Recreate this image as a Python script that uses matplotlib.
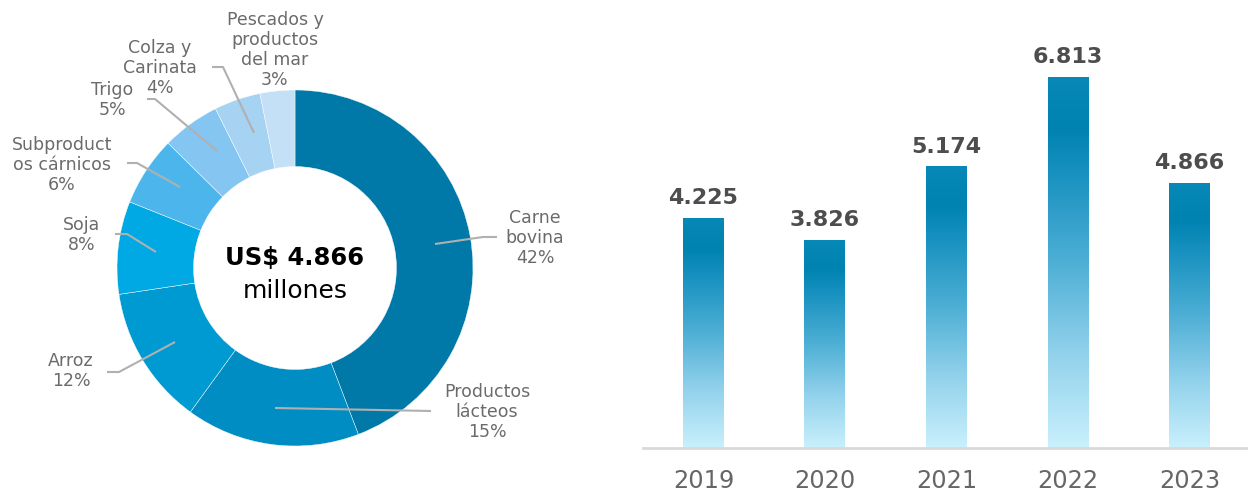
import numpy as np
import matplotlib
matplotlib.use("Agg")
import matplotlib.pyplot as plt
from matplotlib.colors import LinearSegmentedColormap

plt.rcParams['font.family'] = ['DejaVu Sans']

# ---------------- data ----------------
categories = ["Carne\nbovina", "Productos\nlácteos", "Arroz", "Soja",
              "Subproduct\nos cárnicos", "Trigo", "Colza y\nCarinata",
              "Pescados y\nproductos\ndel mar"]
pct_labels = [42, 15, 12, 8, 6, 5, 4, 3]
slice_colors = ["#0079A8", "#008DC3", "#009AD3", "#00A9E3",
                "#4CB6EC", "#84C5F1", "#A7D3F3", "#C3E0F6"]
total_text = "US$ 4.866"
total_unit = "millones"

years = ["2019", "2020", "2021", "2022", "2023"]
exports = [4225, 3826, 5174, 6813, 4866]   # US$ millones

W, H = 1248, 493
fig = plt.figure(figsize=(W / 100, H / 100), dpi=100)

# ---------------- donut ----------------
ax = fig.add_axes([0, 0, 624 / W, 1])
cx, cy, R = 295, H - 268, 178
ax.pie(pct_labels, colors=slice_colors, startangle=90, counterclock=False,
       center=(cx, cy), radius=R,
       wedgeprops=dict(width=R * 0.43, edgecolor='white', linewidth=0.3))
ax.set_xlim(0, 624)
ax.set_ylim(0, H)
ax.set_aspect('equal')
ax.axis('off')

label_gray = "#6B6B6B"
line_gray = "#B0B0B0"
line_step = 20.3  # px between text lines
# label layout: (center x px, center y px of text block), leader polyline in px
layout = [
    ((535, 238), [(497, 237), (483, 237), (435, 244)]),
    ((487, 412), [(431, 411), (275, 408)]),
    ((71, 371), [(107, 372), (119, 372), (175, 342)]),
    ((82, 235), [(115, 234), (127, 234), (156, 252)]),
    ((62, 165), [(127, 163), (137, 163), (180, 187)]),
    ((112, 100), [(147, 99), (155, 99), (217, 151)]),
    ((160, 68), [(212, 67), (223, 67), (254, 133)]),
    ((275, 50), None),
]
for cat, pct, ((tx, ty), line) in zip(categories, pct_labels, layout):
    lines = cat.split("\n") + [f"{pct}%"]
    n = len(lines)
    for i, s in enumerate(lines):
        yy = ty + (i - (n - 1) / 2) * line_step
        ax.text(tx, H - yy, s, ha='center', va='center',
                fontsize=12.5, color=label_gray)
    if line:
        xs = [p[0] for p in line]
        ys = [H - p[1] for p in line]
        ax.plot(xs, ys, color=line_gray, lw=1.5, solid_capstyle='butt')

ax.text(cx, H - 258, total_text, ha='center', va='center', fontsize=17.5,
        fontweight='bold', color='black')
ax.text(cx, H - 291, total_unit, ha='center', va='center', fontsize=18,
        color='black')

# ---------------- bars ----------------
bx0, bx1, base_y = 643, 1248, 448
bax = fig.add_axes([bx0 / W, (H - base_y) / H, (bx1 - bx0) / W, base_y / H])
px_per_unit = 54.45 / 1000.0
spacing = 121.5
first_c = 703.5
xlim = ((bx0 - first_c) / spacing, (bx1 - first_c) / spacing)
ylim = (0, base_y / px_per_unit)

cmap = LinearSegmentedColormap.from_list(
    "grad", [(0.0, "#C9F0FC"), (0.25, "#93D2EC"), (0.5, "#4EAFD5"),
             (0.75, "#1690BF"), (0.86, "#0083B1"), (1.0, "#0788B7")])
grad = np.linspace(0, 1, 256).reshape(-1, 1)
x = np.arange(len(years))
bw = 41 / spacing
bars = bax.bar(x, exports, width=bw, color='none', edgecolor='none')
for b, v in zip(bars, exports):
    x0 = b.get_x()
    im = bax.imshow(grad, cmap=cmap, origin='lower', aspect='auto',
                    extent=(x0, x0 + b.get_width(), 0, v), zorder=2)
    im.set_clip_path(b)
    lbl = f"{v:,}".replace(",", ".")
    bax.annotate(lbl, (b.get_x() + b.get_width() / 2, v), xytext=(0, 7),
                 textcoords='offset points', ha='center', va='bottom',
                 fontsize=16, fontweight='bold', color='#4D4D4D')
bax.set_xlim(*xlim)
bax.set_ylim(*ylim)

for s in ['top', 'right', 'left']:
    bax.spines[s].set_visible(False)
bax.spines['bottom'].set_color('#D9D9D9')
bax.spines['bottom'].set_linewidth(2)
bax.set_yticks([])
bax.set_xticks(x)
bax.set_xticklabels(years, fontsize=17.3, color='#666666')
bax.tick_params(axis='x', length=0, pad=15)
bax.patch.set_alpha(0)

fig.savefig("out.png", dpi=100)
